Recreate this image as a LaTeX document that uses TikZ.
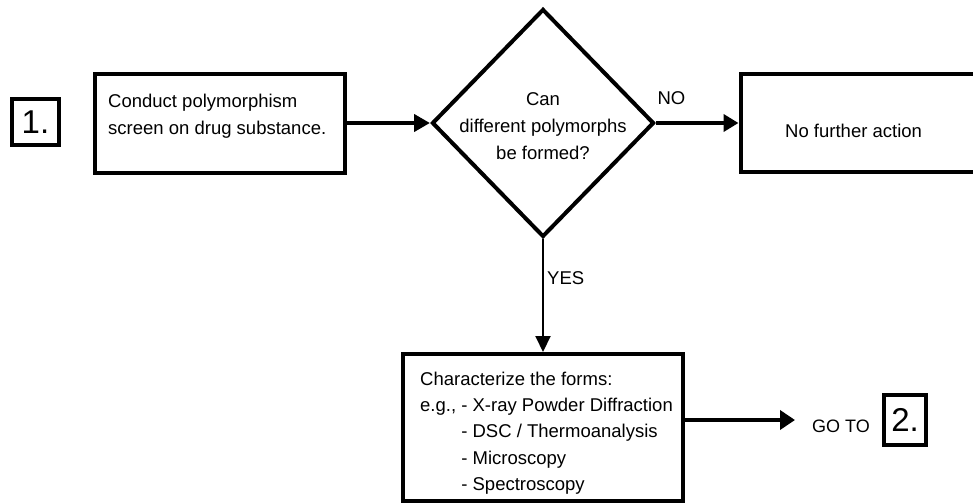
\documentclass[tikz,border=0pt]{standalone}
\usepackage{fontspec}
\setmainfont{Liberation Sans}
\usetikzlibrary{arrows.meta,shapes.geometric}
\begin{document}
\begin{tikzpicture}[x=1pt,y=-1pt,
  box/.style={draw,line width=4pt,rectangle,inner sep=0pt},
  txt/.style={inner sep=0pt,font=\fontsize{18.5}{27}\selectfont,align=left},
  bignum/.style={font=\fontsize{33}{33}\selectfont},
  arr/.style={line width=4pt}]
\useasboundingbox (0,0) rectangle (973,503);
\clip (0,0) rectangle (973,503);

% step 1 marker
\node[box,bignum,minimum width=47pt,minimum height=46pt] (one) at (35.5,122) {1.};

% screen box
\node[box,minimum width=250pt,minimum height=99pt] (scr) at (220,123) {};
\node[txt,anchor=north west] (scrtxt) at (108,93.5) {Conduct polymorphism\\screen on drug substance.};

% decision
\node[draw,line width=4pt,diamond,inner sep=0pt,minimum width=222pt,minimum height=228pt] (dia) at (543,123) {};
\node[txt,align=center,anchor=north] (diatxt) at (543,92) {Can\\different polymorphs\\be formed?};

% no further action
\node[box,minimum width=262pt,minimum height=98pt] (none) at (871.5,123) {};
\node[txt,anchor=base west] (nonetxt) at (785,137) {No further action};

% characterize
\node[box,minimum width=279.5pt,minimum height=147pt] (chr) at (543,427.5) {};
\node[txt,font=\fontsize{18.5}{26.3}\selectfont,anchor=north west] (chrtxt) at (420,371.5)
  {Characterize the forms:\\
   e.g., - X-ray Powder Diffraction\\
   \phantom{e.g., }- DSC / Thermoanalysis\\
   \phantom{e.g., }- Microscopy\\
   \phantom{e.g., }- Spectroscopy};

% go to 2
\node[txt,font=\fontsize{18}{18}\selectfont,anchor=west] (goto) at (812,426) {GO TO};
\node[box,bignum,minimum width=42pt,minimum height=50pt] (two) at (905,420) {2.};
\coordinate (goend) at (795,420);

% connectors
\draw[arr,-{Triangle[length=16pt,width=17pt]}] (scr.east) -- (dia.west);
\draw[arr,-{Triangle[length=15pt,width=17pt]}] (dia.east) -- (none.west);
\node[txt,anchor=base] (no) at (671.5,104.5) {NO};
\draw[line width=2pt,-{Triangle[length=16pt,width=15pt]}] (dia.south) -- (chr.north);
\node[txt,anchor=base west] (yes) at (547,284.5) {YES};
\draw[arr,-{Triangle[length=15pt,width=19pt]}] (chr.east |- goend) -- (goend);
\end{tikzpicture}
\end{document}
